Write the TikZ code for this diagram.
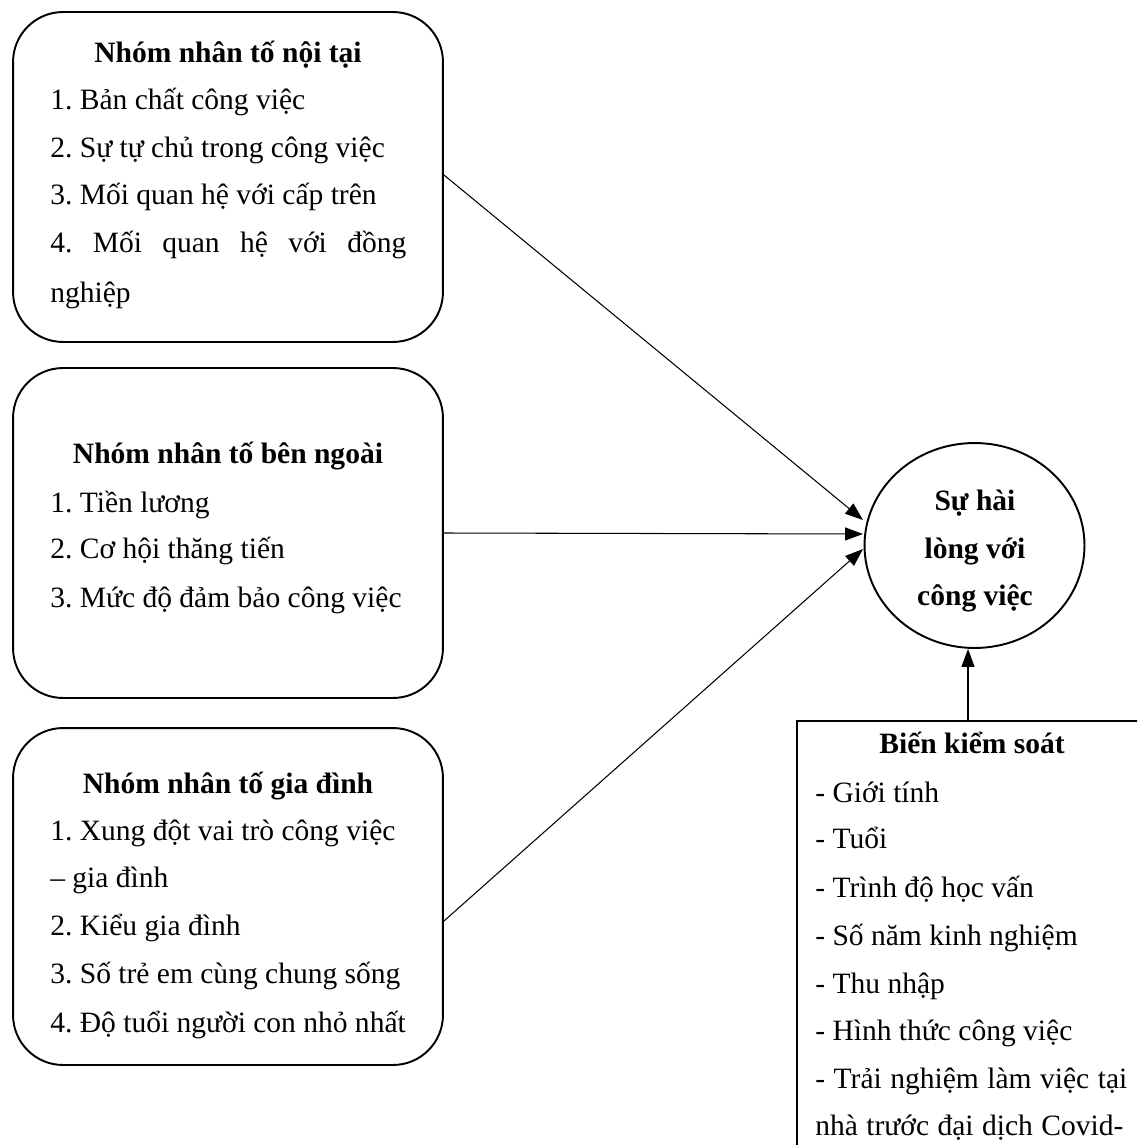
\documentclass[tikz,border=0pt]{standalone}
\usepackage{fontspec}
\setmainfont{Liberation Serif}
\usetikzlibrary{arrows.meta,shapes.geometric,calc}
\begin{document}
\frenchspacing
\begin{tikzpicture}[x=0.02cm,y=-0.02cm,
  grp/.style={draw,line width=1.1pt,rounded corners=1cm,minimum width=8.6cm,inner sep=0pt},
  txt/.style={anchor=base west,inner sep=0pt,font=\fontsize{16.8}{20}\selectfont},
  ttl/.style={anchor=base,inner sep=0pt,font=\fontsize{16.8}{20}\selectfont\bfseries},
  conn/.style={line width=0.6pt,-{Triangle[length=0.36cm,width=0.26cm]}}]
\useasboundingbox (0,0) rectangle (1137,1145);
\clip (0,0) rectangle (1137,1145);
% group boxes
\node[grp,minimum height=6.6cm] (b1) at (228,177) {};
\node[grp,minimum height=6.6cm] (b2) at (228,533) {};
\node[grp,minimum height=6.74cm] (b3) at (228,896.5) {};
% outcome
\node[draw,ellipse,line width=1.1pt,minimum width=4.4cm,minimum height=4.1cm,inner sep=0pt] (c) at (974.5,545.5) {};
\node[ttl] (c1) at (975,510) {Sự hài};
\node[ttl] (c2) at (975,558) {lòng với};
\node[ttl] (c3) at (975,605) {công việc};
% control box
\node[draw,line width=1.1pt,anchor=north west,minimum width=7.4cm,minimum height=9cm,inner sep=0pt] (k) at (796,720) {};
% box 1 text
\node[ttl] (t10) at (228,63) {Nhóm nhân tố nội tại};
\node[txt] (t11) at (50,110) {1. Bản chất công việc};
\node[txt] (t12) at (50,158) {2. Sự tự chủ trong công việc};
\node[txt] (t13) at (50,205) {3. Mối quan hệ với cấp trên};
\node[txt] (t14) at (50,253) {\makebox[7.12cm][s]{4. Mối quan hệ với đồng}};
\node[txt] (t15) at (50,302) {nghiệp};
% box 2 text
\node[ttl] (t20) at (228,463) {Nhóm nhân tố bên ngoài};
\node[txt] (t21) at (50,512) {1. Tiền lương};
\node[txt] (t22) at (50,558) {2. Cơ hội thăng tiến};
\node[txt] (t23) at (50,607) {3. Mức độ đảm bảo công việc};
% box 3 text
\node[ttl] (t30) at (228,793) {Nhóm nhân tố gia đình};
\node[txt] (t31) at (50,840) {1. Xung đột vai trò công việc};
\node[txt] (t32) at (50,887) {– gia đình};
\node[txt] (t33) at (50,935) {2. Kiểu gia đình};
\node[txt] (t34) at (50,983) {3. Số trẻ em cùng chung sống};
\node[txt] (t35) at (50,1032) {4. Độ tuổi người con nhỏ nhất};
% control text
\node[ttl] (k0) at (972,753) {Biến kiểm soát};
\node[txt] (k1) at (815,802) {- Giới tính};
\node[txt] (k2) at (815,848) {- Tuổi};
\node[txt] (k3) at (815,897) {- Trình độ học vấn};
\node[txt] (k4) at (815,945) {- Số năm kinh nghiệm};
\node[txt] (k5) at (815,993) {- Thu nhập};
\node[txt] (k6) at (815,1040) {- Hình thức công việc};
\node[txt] (k7) at (815,1088) {\makebox[6.24cm][s]{- Trải nghiệm làm việc tại}};
\node[txt] (k8) at (815,1135) {\makebox[6.16cm][s]{nhà trước đại dịch Covid-}};
% connector endpoints
\coordinate (e1) at (863,520);
\coordinate (e2) at (863,534);
\coordinate (e3) at (863,549);
\coordinate (s1) at ($(b1.east)+(0,-2)$);
\coordinate (s3) at ($(b3.east)+(0,24.5)$);
\coordinate (kt) at (968,720);
\draw[conn] (s1) -- (e1);
\draw[conn] (b2.east) -- (e2);
\draw[conn] (s3) -- (e3);
\draw[conn] (kt) -- (kt |- c.south);
\end{tikzpicture}
\end{document}
